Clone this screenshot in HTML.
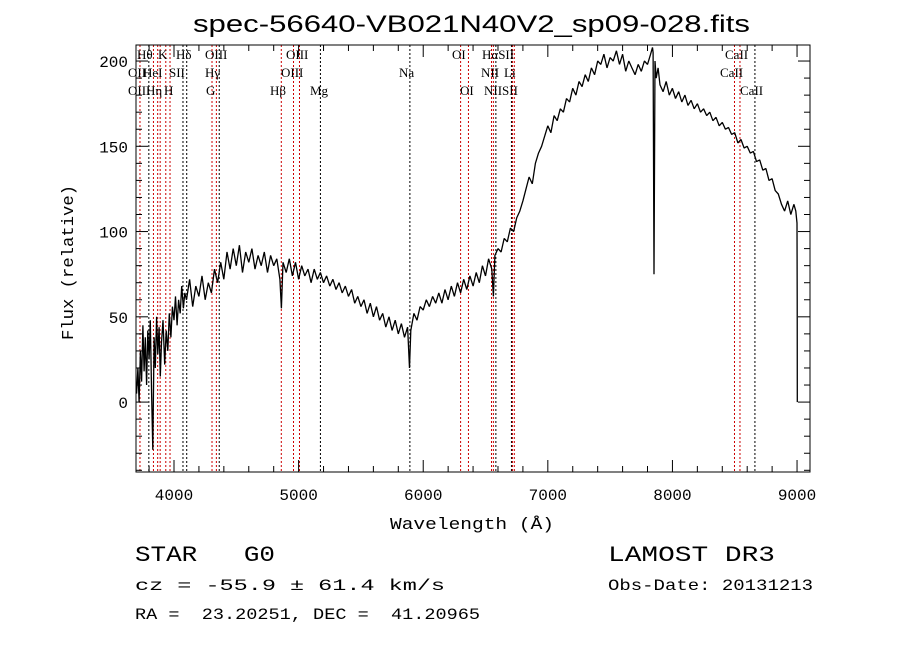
<!DOCTYPE html>
<html><head><meta charset="utf-8"><style>
body{margin:0;background:#fff}
svg text{font-family:"Liberation Mono",monospace;fill:#000;white-space:pre}
</style></head><body>
<svg id="chart" width="900" height="649" viewBox="0 0 900 649">
<text x="193" y="32" textLength="557" lengthAdjust="spacingAndGlyphs" font-size="24" style="font-family:'Liberation Sans',sans-serif">spec-56640-VB021N40V2_sp09-028.fits</text>
<g id="lines"></g>
<g id="axes"></g>
<path id="spec" fill="none" stroke="#000" stroke-width="1.3" stroke-linejoin="bevel"/>
<text x="390" y="529" textLength="164" lengthAdjust="spacingAndGlyphs" font-size="17">Wavelength (Å)</text>
<text transform="translate(73,340) rotate(-90)" textLength="155" lengthAdjust="spacingAndGlyphs" font-size="17">Flux (relative)</text>
<text x="135" y="561" textLength="140" lengthAdjust="spacingAndGlyphs" font-size="22">STAR   G0</text>
<text x="135" y="590" textLength="310" lengthAdjust="spacingAndGlyphs" font-size="16">cz = -55.9 ± 61.4 km/s</text>
<text x="135" y="619" textLength="345" lengthAdjust="spacingAndGlyphs" font-size="16">RA =  23.20251, DEC =  41.20965</text>
<text x="608" y="561" textLength="167" lengthAdjust="spacingAndGlyphs" font-size="22">LAMOST DR3</text>
<text x="608" y="590" textLength="205" lengthAdjust="spacingAndGlyphs" font-size="16">Obs-Date: 20131213</text>
</svg>
<script>
const waves=[3700,3710,3720,3730,3740,3750,3760,3770,3780,3790,3800,3810,3820,3830,3840,3850,3860,3870,3880,3890,3900,3912,3925,3937,3950,3962,3975,3987,4000,4012,4025,4037,4050,4062,4075,4087,4100,4125,4150,4175,4200,4225,4250,4275,4300,4325,4350,4375,4400,4425,4450,4475,4500,4525,4550,4575,4600,4625,4650,4675,4700,4725,4750,4775,4800,4825,4850,4862,4875,4900,4925,4950,4975,5000,5025,5050,5075,5100,5125,5150,5175,5200,5225,5250,5275,5300,5325,5350,5375,5400,5425,5450,5475,5500,5525,5550,5575,5600,5625,5650,5675,5700,5725,5750,5775,5800,5825,5850,5875,5890,5900,5925,5950,5975,6000,6025,6050,6075,6100,6125,6150,6175,6200,6225,6250,6275,6300,6325,6350,6375,6400,6425,6450,6475,6500,6525,6550,6563,6575,6600,6625,6650,6675,6700,6725,6750,6775,6800,6825,6850,6875,6900,6925,6950,6975,7000,7025,7050,7075,7100,7125,7150,7175,7200,7225,7250,7275,7300,7325,7350,7375,7400,7425,7450,7475,7500,7525,7550,7575,7600,7625,7650,7675,7700,7725,7750,7775,7800,7825,7840,7845,7852,7860,7870,7885,7900,7925,7950,7975,8000,8025,8050,8075,8100,8125,8150,8175,8200,8225,8250,8275,8300,8325,8350,8375,8400,8425,8450,8475,8500,8525,8550,8575,8600,8625,8650,8675,8700,8725,8750,8775,8800,8825,8850,8875,8900,8925,8950,8975,8990,9000,9001,9002];
const flux=[5,20,0,30,12,45,18,38,10,42,25,48,5,-28,38,20,50,28,44,15,35,
48,22,42,30,52,38,56,48,62,45,60,52,68,55,64,60,
72,56,68,62,74,60,70,64,78,70,82,72,88,78,90,80,92,76,88,82,90,78,86,80,88,76,86,80,84,72,
55,82,
76,84,74,82,72,80,74,78,70,78,72,76,70,74,68,72,66,70,64,68,62,66,58,62,56,60,52,58,50,56,48,52,44,50,42,48,40,46,38,44,
20,
42,52,48,56,54,60,56,62,58,64,58,66,60,68,62,70,64,72,66,74,68,76,70,80,74,84,78,
62,86,
90,88,96,94,102,100,108,112,118,125,132,128,140,146,150,156,162,158,168,165,172,170,178,176,184,180,188,185,192,188,196,192,200,198,204,196,202,200,206,198,204,194,200,196,192,198,194,200,198,204,
208,205,75,200,190,196,
186,182,188,180,184,178,182,176,180,174,177,172,175,170,172,168,170,165,167,162,164,160,161,157,158,152,154,149,150,146,147,141,142,136,137,130,131,124,122,116,112,118,110,116,
112,105,60,0];
const xTicks=[4000,5000,6000,7000,8000,9000];
const yTicks=[0,50,100,150,200];
const lineW=[3727,3798,3835,3869,3889,3934,3968,4072,4102,4305,4340,4363,4861,4959,5007,5175,5893,6300,6363,6548,6563,6583,6708,6716,6731,8498,8542,8662];
const lineRed=[1,0,1,1,1,1,1,0,0,1,1,0,1,1,1,0,0,1,1,1,1,0,0,1,1,1,1,0];
const L=136,R=810,T=45,B=472,XMIN=3695,XMAX=9104,YMIN=-41,YMAX=209.4;
const sx=w=>L+(w-XMIN)/(XMAX-XMIN)*(R-L);
const sy=f=>B-(f-YMIN)/(YMAX-YMIN)*(B-T);
const NS='http://www.w3.org/2000/svg';
function mk(tag,attrs,parent){const e=document.createElementNS(NS,tag);for(const k in attrs)e.setAttribute(k,attrs[k]);parent.appendChild(e);return e;}
const lg=document.getElementById('lines');
lineW.forEach((w,i)=>{
  const l=mk('line',{x1:sx(w),x2:sx(w),y1:T,y2:B,stroke:lineRed[i]?'#c00':'#000','stroke-width':1,'stroke-dasharray':'2,2'},lg);
  
  
});
const labels=[["Hθ",137,59],["K",158,59],["Hδ",176,59],["OIII",205,59],["OIII",286,59],["OI",452,59],["HαSII",482,59],["CaII",725,59],
["OII",128,77],["HeI",143,77],["SII",169,77],["Hγ",205,77],["OIII",281,77],["Na",399,77],["NII",481,77],["Li",504,77],["CaII",720,77],
["OIII",128,95],["Hη",146,95],["H",164,95],["G",206,95],["Hβ",270,95],["Mg",310,95],["OI",460,95],["NIISII",484,95],["CaII",740,95]];
labels.forEach(a=>{const t=mk('text',{x:a[1],y:a[2],'font-size':13,style:"font-family:'Liberation Serif',serif"},lg);t.textContent=a[0];

});
const ax=document.getElementById('axes');
const fr=mk('rect',{x:L,y:T,width:R-L,height:B-T,fill:'none',stroke:'#000','stroke-width':1},ax);


for(let w=3800;w<=9100;w+=200){const x=sx(w);const maj=w%1000===0;const h=maj?12:6;
 mk('line',{x1:x,x2:x,y1:B,y2:B-h,stroke:'#000'},ax);mk('line',{x1:x,x2:x,y1:T,y2:T+h,stroke:'#000'},ax);}
xTicks.forEach(w=>{const t=mk('text',{x:sx(w),y:500,'text-anchor':'middle','font-size':16},ax);t.textContent=w;

});
for(let f=-40;f<=200;f+=10){const y=sy(f);const maj=f%50===0;const h=maj?12:6;
 mk('line',{x1:L,x2:L+h,y1:y,y2:y,stroke:'#000'},ax);mk('line',{x1:R,x2:R-h,y1:y,y2:y,stroke:'#000'},ax);}
yTicks.forEach(f=>{const t=mk('text',{x:128,y:sy(f)+6,'text-anchor':'end','font-size':16},ax);t.textContent=f;

});
let d='';waves.forEach((w,i)=>{d+=(i?'L':'M')+sx(w).toFixed(1)+','+sy(flux[i]).toFixed(1);});
document.getElementById('spec').setAttribute('d',d);
</script>
</body></html>
